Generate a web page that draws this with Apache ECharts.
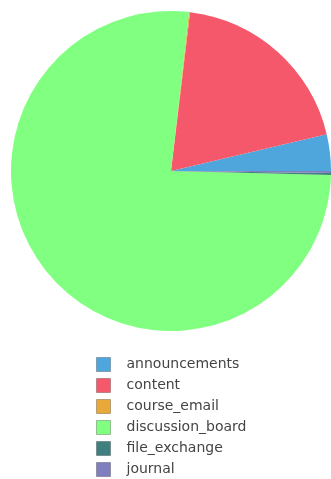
<!DOCTYPE html>
<html>
<head>
<meta charset="utf-8">
<script src="https://cdn.jsdelivr.net/npm/echarts@6/dist/echarts.min.js"></script>
<style>
  html, body { margin: 0; padding: 0; background: #fff; }
  #chart { width: 331px; height: 479px; }
</style>
</head>
<body>
<div id="chart"></div>
<script>
// Tool usage counts per area
const categories = ['announcements', 'content', 'course_email', 'discussion_board', 'file_exchange', 'journal'];
const counts = [37, 194, 1, 764, 2, 2];
const colors = ['#4fa6dd', '#f5586b', '#e8a93a', '#80ff80', '#3f7f7f', '#7f7fbf'];

const chart = echarts.init(document.getElementById('chart'));
chart.setOption({
  animation: false,
  color: colors,
  legend: {
    orient: 'vertical',
    left: 96,
    top: 357,
    height: 200,
    padding: 0,
    itemWidth: 14,
    itemHeight: 14,
    itemGap: 6,
    icon: 'rect',
    itemStyle: { borderColor: 'rgba(0,0,0,0.25)', borderWidth: 1 },
    textStyle: { fontFamily: 'DejaVu Sans', fontSize: 14, lineHeight: 14, color: '#444', padding: [0, 0, 0, 11] },
    data: categories
  },
  series: [{
    type: 'pie',
    center: [171, 171],
    radius: 160,
    startAngle: 0,
    clockwise: false,
    label: { show: false },
    labelLine: { show: false },
    emphasis: { disabled: true },
    itemStyle: { borderWidth: 0 },
    data: categories.map((name, i) => ({ name, value: counts[i] }))
  }]
});
</script>
</body>
</html>
